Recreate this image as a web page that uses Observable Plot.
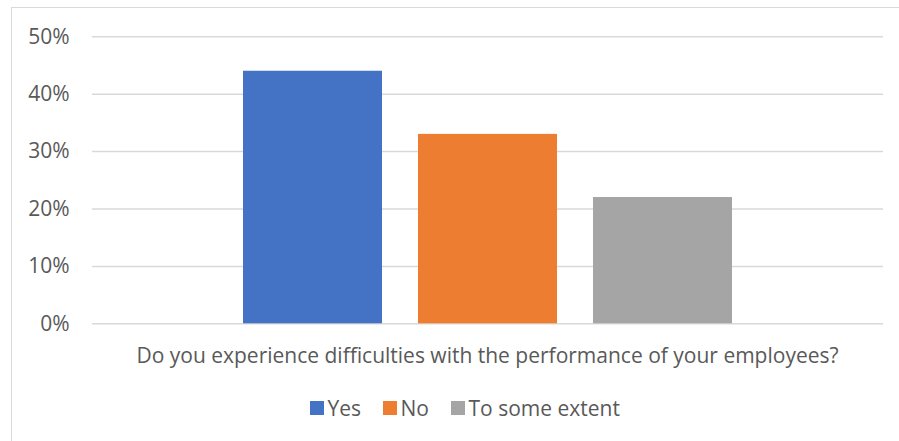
<!DOCTYPE html>
<html>
<head>
<meta charset="utf-8">
<script src="https://cdn.jsdelivr.net/npm/d3@7"></script>
<script src="https://cdn.jsdelivr.net/npm/@observablehq/plot@0.6"></script>
<style>
  html, body { margin: 0; padding: 0; background: #fff; }
  body { width: 899px; height: 441px; overflow: hidden; position: relative; font-family: "Open Sans", sans-serif; color: #595959; }
  #frame { position: absolute; left: 10.5px; top: 6.5px; width: 1000px; height: 1000px; border: 1.5px solid #d9d9d9; box-sizing: border-box; }
  #chart { position: absolute; left: 0; top: 0; }
  #title { position: absolute; left: 92px; width: 791px; top: 344.5px; text-align: center; font-size: 21px; line-height: 21px; white-space: nowrap; }
  #legend { position: absolute; left: 310px; top: 397.5px; display: flex; align-items: center; font-size: 21px; line-height: 21px; white-space: nowrap; }
  .item { display: flex; align-items: center; margin-right: 22px; }
  .sw { width: 13.5px; height: 13.5px; margin-right: 4px; }
</style>
</head>
<body>
<div id="frame"></div>
<div id="chart"></div>
<div id="title"></div>
<div id="legend"></div>
<script>
const categories = ["Yes", "No", "To some extent"];
const values = [0.44, 0.33, 0.22];
const colors = ["#4472C4", "#ED7D31", "#A5A5A5"];
const yTicks = [0, 0.1, 0.2, 0.3, 0.4, 0.5];
const axisTitle = "Do you experience difficulties with the performance of your employees?";

const data = categories.map((c, i) => ({category: c, value: values[i]}));

const plot = Plot.plot({
  width: 899,
  height: 341,
  marginTop: 36.3,
  marginBottom: 17.7,
  marginLeft: 92,
  marginRight: 16,
  style: {fontFamily: "Open Sans, sans-serif", fontSize: "21px", color: "#595959", background: "transparent"},
  x: {domain: categories, paddingInner: 0.206, paddingOuter: 0.858, axis: null},
  y: {domain: [0, 0.5], axis: null},
  color: {domain: categories, range: colors},
  marks: [
    Plot.ruleY(yTicks, {stroke: "#d9d9d9", strokeWidth: 1.5}),
    Plot.barY(data, {x: "category", y: "value", fill: "category"}),
    Plot.axisY({ticks: yTicks, tickFormat: d3.format(".0%"), tickSize: 0, tickPadding: 23, label: null, fill: "#595959"})
  ]
});
document.getElementById("chart").appendChild(plot);
document.getElementById("title").textContent = axisTitle;

const legend = document.getElementById("legend");
categories.forEach((c, i) => {
  const item = document.createElement("div");
  item.className = "item";
  const sw = document.createElement("div");
  sw.className = "sw";
  sw.style.background = colors[i];
  const t = document.createElement("span");
  t.textContent = c;
  item.appendChild(sw);
  item.appendChild(t);
  legend.appendChild(item);
});
</script>
</body>
</html>
